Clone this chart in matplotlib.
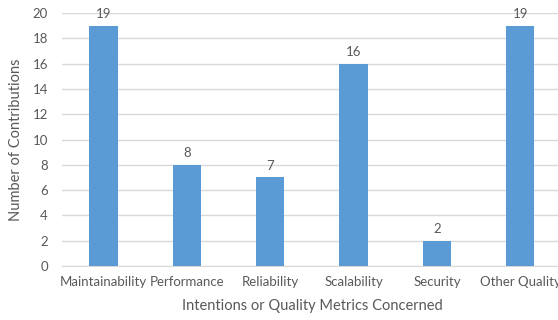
import matplotlib
matplotlib.use("Agg")
import matplotlib.pyplot as plt

categories = ["Maintainability", "Performance", "Reliability", "Scalability", "Security", "Other Quality"]
counts = [19, 8, 7, 16, 2, 19]
y_ticks = list(range(0, 21, 2))

bar_color = "#5B9BD5"
text_color = "#595959"
grid_color = "#D9D9D9"

plt.rcParams["font.family"] = ["Lato", "DejaVu Sans"]

fig = plt.figure(figsize=(5.58, 3.2), dpi=100)
ax = fig.add_axes([0.111, 0.169, 0.896, 0.790])

x = list(range(len(categories)))
ax.bar(x, counts, width=0.34, color=bar_color, zorder=3)
for xi, v in zip(x, counts):
    ax.text(xi, v + 0.45, str(v), ha="center", va="bottom", fontsize=9.5, color=text_color)

ax.set_xlim(-0.5, len(categories) - 0.5)
ax.set_ylim(0, 20)
ax.set_yticks(y_ticks)
ax.set_xticks(x)
ax.set_xticklabels(categories)
ax.tick_params(axis="both", length=0, labelsize=9.5, colors=text_color)
ax.tick_params(axis="y", pad=10)
ax.tick_params(axis="x", pad=7)
ax.yaxis.grid(True, color=grid_color, linewidth=1, zorder=0)
for s in ["top", "right", "left"]:
    ax.spines[s].set_visible(False)
ax.spines["bottom"].set_color(grid_color)

ax.set_ylabel("Number of Contributions", fontsize=10.5, color=text_color, labelpad=7)
ax.set_xlabel("Intentions or Quality Metrics Concerned", fontsize=10.5, color=text_color, labelpad=8)

fig.savefig("out.png", dpi=100)
